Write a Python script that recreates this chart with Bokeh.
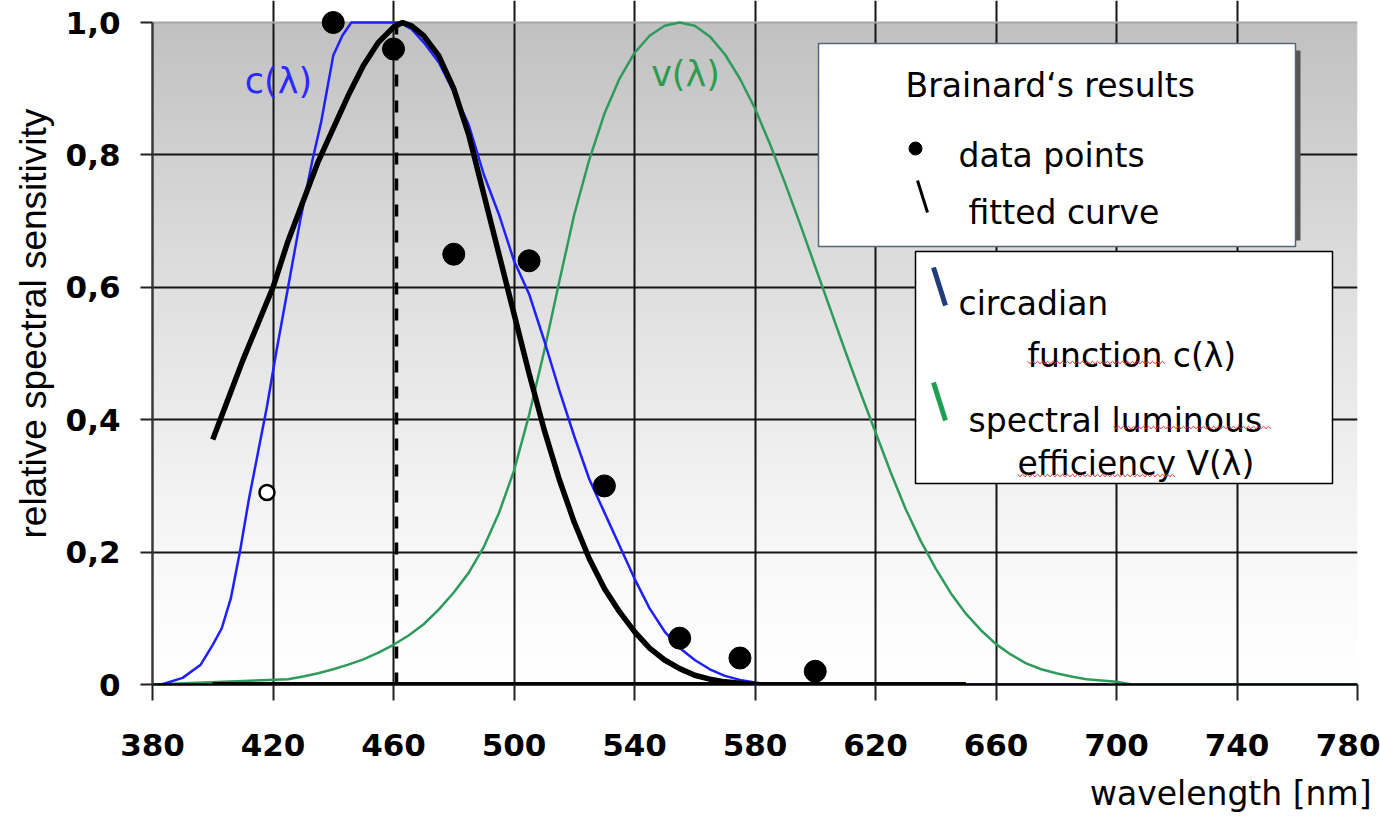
import numpy as np
from bokeh.plotting import figure
from bokeh.models import FixedTicker, Range1d, Title, Grid
from bokeh.core.properties import value
from bokeh.embed import file_html
from bokeh.resources import INLINE

# ---------------- data ----------------
# fitted curve (Brainard)
fit_x = [400, 405, 410, 415, 420, 425, 430, 435, 440, 445, 450, 455, 460, 463, 466, 470,
         475, 480, 485, 490, 495, 500, 505, 510, 515, 520, 525, 530, 535, 540, 545, 550,
         555, 560, 565, 570, 575, 580]
fit_y = [0.37, 0.43, 0.49, 0.545, 0.60, 0.67, 0.73, 0.79, 0.84, 0.89, 0.935, 0.97, 0.993, 1.0,
         0.995, 0.98, 0.95, 0.90, 0.83, 0.74, 0.65, 0.56, 0.47, 0.385, 0.31, 0.245, 0.19, 0.145,
         0.11, 0.08, 0.055, 0.037, 0.024, 0.014, 0.008, 0.004, 0.002, 0.0]

# circadian function c(lambda)
c_x = [383, 390, 396, 400, 403, 406, 409, 412, 415, 418, 421, 425, 429, 433, 436, 438, 440,
       443, 446, 456, 462, 466, 470, 475, 480, 485, 490, 495, 500, 505, 510, 515, 520, 525,
       530, 535, 540, 545, 550, 555, 560, 565, 570, 575, 580, 585, 697]
c_y = [0.0, 0.01, 0.03, 0.06, 0.085, 0.13, 0.2, 0.28, 0.35, 0.42, 0.50, 0.60, 0.70, 0.79, 0.85,
       0.90, 0.95, 0.98, 1.0, 1.0, 1.0, 0.99, 0.97, 0.94, 0.895, 0.845, 0.77, 0.71, 0.64, 0.59,
       0.52, 0.445, 0.375, 0.31, 0.26, 0.21, 0.16, 0.115, 0.08, 0.055, 0.037, 0.023, 0.013,
       0.007, 0.003, 0.0, 0.0]

# spectral luminous efficiency V(lambda)
v_x = [380, 425, 430, 435, 440, 445, 450, 455, 460, 465, 470, 475, 480, 485, 490, 495, 500,
       505, 510, 515, 520, 525, 530, 535, 540, 545, 550, 555, 560, 565, 570, 575, 580, 585,
       590, 595, 600, 605, 610, 615, 620, 625, 630, 635, 640, 645, 650, 655, 660, 665, 670,
       675, 680, 685, 690, 695, 700, 705, 780]
v_y = [0.0, 0.008, 0.012, 0.017, 0.023, 0.030, 0.038, 0.048, 0.060, 0.074, 0.091, 0.113,
       0.139, 0.169, 0.208, 0.259, 0.323, 0.407, 0.503, 0.608, 0.710, 0.793, 0.862, 0.915,
       0.954, 0.980, 0.995, 1.000, 0.995, 0.979, 0.952, 0.915, 0.870, 0.816, 0.757, 0.695,
       0.631, 0.567, 0.503, 0.441, 0.381, 0.321, 0.265, 0.217, 0.175, 0.138, 0.107, 0.082,
       0.061, 0.045, 0.032, 0.023, 0.017, 0.012, 0.008, 0.006, 0.004, 0.0, 0.0]

# Brainard's data points
pts_x = [440, 460, 480, 505, 530, 555, 575, 600]
pts_y = [1.0, 0.96, 0.65, 0.64, 0.30, 0.07, 0.04, 0.02]
open_x = [418]
open_y = [0.29]

# peak marker and zero line of the fitted curve
peak_x = 461
base_x = [400, 650]
base_y = [0.0, 0.0]

x_ticks = [380, 420, 460, 500, 540, 580, 620, 660, 700, 740, 780]
y_ticks = [0.0, 0.2, 0.4, 0.6, 0.8, 1.0]
y_tick_labels = ["0", "0,2", "0,4", "0,6", "0,8", "1,0"]

# ---------------- layout helpers (pixel -> data) ----------------
FL, FR, FT, FB = 152, 1357, 22, 684
def px2x(px):
    return 380 + (px - FL) * 400.0 / (FR - FL)
def px2y(py):
    return (FB - py) / float(FB - FT)

FONT = "DejaVu Sans"

p = figure(width=1380, height=827, x_range=Range1d(380, 780),
           y_range=Range1d(0, px2y(0)),
           output_backend="svg", toolbar_location=None,
           min_border_left=FL, min_border_right=1380 - FR, min_border_top=0,
           min_border_bottom=827 - FB)
p.background_fill_color = "white"
p.border_fill_color = "white"
p.outline_line_color = None

# gradient background (grey at top -> white at bottom)
N = 331
vv = np.linspace(0, 1, N)
lev = np.clip(255 - 62 * vv ** 1.3, 0, 255).astype(np.uint8)
img = np.empty((N, 2), dtype=np.uint32)
view = img.view(dtype=np.uint8).reshape((N, 2, 4))
view[:, :, 0] = lev[:, None]
view[:, :, 1] = lev[:, None]
view[:, :, 2] = lev[:, None]
view[:, :, 3] = 255
p.image_rgba(image=[img], x=380, y=0, dw=400, dh=1, level="image")

# grid
p.xgrid.ticker = FixedTicker(ticks=x_ticks[1:-1])
p.ygrid.ticker = FixedTicker(ticks=y_ticks[1:-1])
p.xgrid.bounds = (0, 1.0)
for g in (p.xgrid, p.ygrid):
    g.grid_line_color = "#151515"
    g.grid_line_width = 2
    g.grid_line_alpha = 1.0
# light frame border (top and right)
p.add_layout(Grid(dimension=0, ticker=FixedTicker(ticks=[780]), bounds=(0, 1.0),
                  grid_line_color="#a8a8a8", grid_line_width=2))
p.add_layout(Grid(dimension=1, ticker=FixedTicker(ticks=[1.0]), bounds=(380, 780),
                  grid_line_color="#a8a8a8", grid_line_width=2))

# axes
p.xaxis.ticker = FixedTicker(ticks=x_ticks)
p.yaxis.ticker = FixedTicker(ticks=y_ticks)
p.yaxis.bounds = (0, 1.0)
p.yaxis.major_label_overrides = {t: l for t, l in zip(y_ticks, y_tick_labels)}
for ax in (p.xaxis, p.yaxis):
    ax.major_label_text_font = FONT
    ax.major_label_text_font_style = "bold"
    ax.major_label_text_color = "black"
    ax.minor_tick_line_color = None
    ax.major_tick_in = 0
    ax.major_tick_line_width = 2
    ax.major_tick_line_color = "#222222"
p.xaxis.major_label_text_font_size = "31px"
p.yaxis.major_label_text_font_size = "31px"
p.xaxis.major_tick_out = 16
p.xaxis.major_label_standoff = 33
p.xaxis.axis_line_color = "black"
p.xaxis.axis_line_width = 2.5
p.yaxis.major_tick_out = 12
p.yaxis.major_label_standoff = 20
p.yaxis.axis_line_color = "#3a3a3a"
p.yaxis.axis_line_width = 2.5

# ---------------- curves ----------------
p.line(v_x, v_y, line_color="#2e9b5c", line_width=2.5)
p.line(c_x, c_y, line_color="#1f1fff", line_width=2.5)
p.segment(x0=[peak_x], y0=[0.0], x1=[peak_x], y1=[1.0], line_color="black",
          line_width=3.5, line_dash="12 14")
p.line(base_x, base_y, line_color="black", line_width=5)
p.line(fit_x, fit_y, line_color="black", line_width=5.5)
p.scatter(pts_x, pts_y, size=22, fill_color="black", line_color="black")
p.scatter(open_x, open_y, size=15, fill_color="white", line_color="black", line_width=2.5)

# curve labels
p.text(x=[px2x(278)], y=[px2y(80)], text=["c(λ)"], text_color="#2a2aff",
       text_font=value(FONT), text_font_size="35px", text_align="center",
       text_baseline="middle")
p.text(x=[px2x(685)], y=[px2y(73)], text=["v(λ)"], text_color="#2e9b50",
       text_font=value(FONT), text_font_size="35px", text_align="center",
       text_baseline="middle")

# ---------------- legend boxes ----------------
p.quad(left=[px2x(1295)], right=[px2x(1300)], top=[px2y(50)], bottom=[px2y(240)],
       fill_color="#555555", line_color=None)
p.quad(left=[px2x(818)], right=[px2x(1295)], top=[px2y(43)], bottom=[px2y(246)],
       fill_color="white", line_color="#56667f", line_width=1.5)
p.quad(left=[px2x(915)], right=[px2x(1332)], top=[px2y(251)], bottom=[px2y(483)],
       fill_color="white", line_color="black", line_width=1.5)

leg_text = ["Brainard‘s results", "data points", "fitted curve", "circadian",
            "function c(λ)", "spectral luminous", "efficiency V(λ)"]
leg_px = [905, 958, 968, 958, 1027, 968, 1017]
leg_py = [85, 155, 212, 303, 355, 420, 463]
p.text(x=[px2x(a) for a in leg_px], y=[px2y(b) for b in leg_py], text=leg_text,
       text_color="black", text_font=value(FONT), text_font_size="33px",
       text_align="left", text_baseline="alphabetic")

# legend symbols
p.scatter([px2x(915)], [px2y(148)], size=13, fill_color="black", line_color="black")
p.segment(x0=[px2x(917)], y0=[px2y(180)], x1=[px2x(927)], y1=[px2y(212)],
          line_color="black", line_width=3)
p.segment(x0=[px2x(933)], y0=[px2y(267)], x1=[px2x(945)], y1=[px2y(305)],
          line_color="#1f3d7a", line_width=5)
p.segment(x0=[px2x(933)], y0=[px2y(382)], x1=[px2x(945)], y1=[px2y(420)],
          line_color="#1fa050", line_width=5)

# red spell-check squiggles
sq_xs, sq_ys = [], []
for a, b, yb in [(1027, 1166, 362), (1113, 1272, 427), (1017, 1175, 475)]:
    xs = np.arange(a, b, 2.5)
    ys = yb + np.where(np.arange(len(xs)) % 2 == 0, -1.2, 1.2)
    sq_xs.append([px2x(x) for x in xs])
    sq_ys.append([px2y(y) for y in ys])
p.multi_line(sq_xs, sq_ys, line_color="#e03030", line_width=1)

# ---------------- axis titles ----------------
p.add_layout(Title(text="wavelength [nm]", align="right", offset=-14, text_font=FONT,
                   text_font_size="33px", text_font_style="normal",
                   text_color="black", standoff=26), "below")
p.add_layout(Title(text="relative spectral sensitivity", align="left", offset=146,
                   text_font="Liberation Sans", text_font_size="37px",
                   text_font_style="normal", text_color="black", standoff=18), "left")

open("out.html", "w").write(file_html(p, INLINE))
